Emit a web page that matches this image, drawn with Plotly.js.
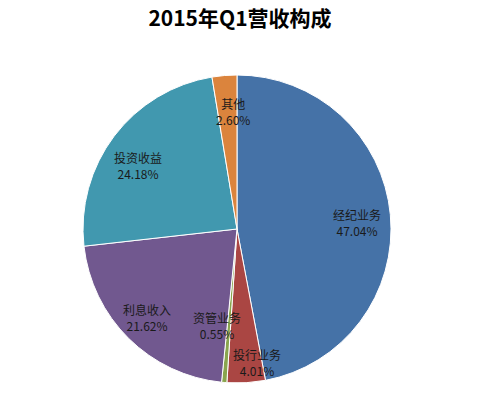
<!DOCTYPE html>
<html><head><meta charset="utf-8">
<script src="https://cdn.plot.ly/plotly-3.0.1.min.js"></script>
<style>html,body{margin:0;padding:0;background:#fff}#c{width:480px;height:397px}</style>
</head><body><div id="c"></div>
<script>
var categories = ['经纪业务','投行业务','资管业务','利息收入','投资收益','其他'];
var values = [47.04, 4.01, 0.55, 21.62, 24.18, 2.60];
var colors = ['#4572A7','#AA4643','#89A54E','#71588F','#4198AF','#DB843D'];
// label centre positions in pixels (layout only)
var labelPx = [[357,222],[257,362],[217,325],[147,317],[138,165],[233,112]];

var W = 480, H = 397, cx = 237, cy = 229, r = 154;
var annotations = categories.map(function(c,i){
  return {
    xref:'paper', yref:'paper',
    x: labelPx[i][0]/W, y: 1 - labelPx[i][1]/H,
    xanchor:'center', yanchor:'middle',
    text: c + '<br>' + values[i].toFixed(2) + '%',
    showarrow:false,
    font:{family:'Noto Sans CJK SC, DejaVu Sans, sans-serif', size:12, color:'#1a1a1a'}
  };
});

var trace = {
  type:'pie',
  labels: categories,
  values: values,
  sort:false,
  direction:'clockwise',
  rotation:0,
  textinfo:'none',
  hoverinfo:'none',
  marker:{colors:colors, line:{color:'#ffffff', width:1}},
  domain:{x:[(cx-r)/W,(cx+r)/W], y:[(H-cy-r)/H,(H-cy+r)/H]},
  showlegend:false
};

var layout = {
  width:W, height:H,
  margin:{l:0,r:0,t:0,b:0},
  paper_bgcolor:'#ffffff',
  title:{text:'<b>2015年Q1营收构成</b>', x:0.5, xanchor:'center', y:1-19/H, yanchor:'middle',
    font:{family:'Noto Sans CJK SC, DejaVu Sans, sans-serif', size:21, color:'#000'}},
  annotations: annotations,
  showlegend:false
};
Plotly.newPlot('c',[trace],layout,{staticPlot:true});
</script></body></html>
